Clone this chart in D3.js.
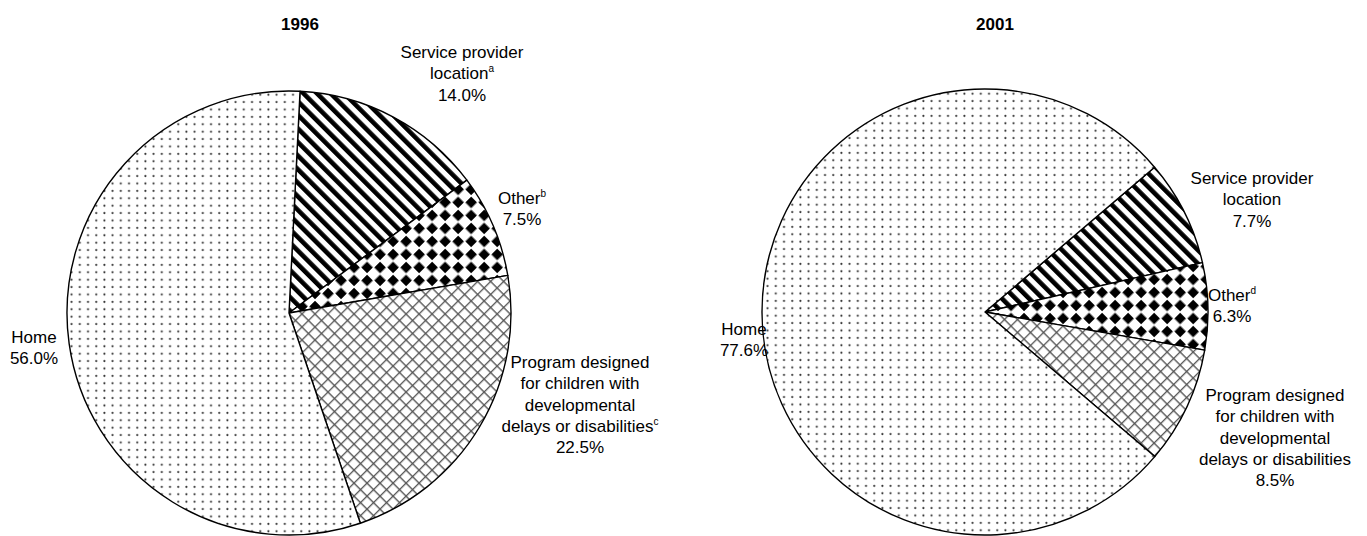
<!DOCTYPE html>
<html>
<head>
<meta charset="utf-8">
<script src="https://cdn.jsdelivr.net/npm/d3@7"></script>
<style>
  body { margin: 0; background: #fff; }
  text { font-family: "Liberation Sans", Arial, sans-serif; fill: #000; }
</style>
</head>
<body>
<div id="chart"></div>
<script>
// Data
const YEARS = ['1996', '2001'];
const CATEGORIES = ['service', 'other', 'program', 'home'];
const VALUES_1996 = [14.0, 7.5, 22.5, 56.0];
const VALUES_2001 = [7.7, 6.3, 8.5, 77.6];
// label text lines (percent line is added from the values)
const LINES_SERVICE = ['Service provider', 'location'];
const LINES_OTHER = ['Other'];
const LINES_PROGRAM = ['Program designed', 'for children with', 'developmental', 'delays or disabilities'];
const LINES_HOME = ['Home'];
const NOTES_1996 = ['a', 'b', 'c', ''];
const NOTES_2001 = ['', 'd', '', ''];

const width = 1367, height = 536;
const svg = d3.select('#chart').append('svg')
    .attr('width', width)
    .attr('height', height);

// Patterns
let defs = svg.append('defs');

let dots = defs.append('pattern')
    .attr('id', 'p-home')
    .attr('patternUnits', 'userSpaceOnUse')
    .attr('width', 8.2).attr('height', 7.4);
dots.append('rect').attr('width', 8.2).attr('height', 7.4).attr('fill', '#fff');
dots.append('circle').attr('cx', 4).attr('cy', 3.7).attr('r', 1.05).attr('fill', '#3a3a3a');

let stripes = defs.append('pattern')
    .attr('id', 'p-service')
    .attr('patternUnits', 'userSpaceOnUse')
    .attr('width', 9.6).attr('height', 9.6)
    .attr('patternTransform', 'rotate(-45)');
stripes.append('rect').attr('width', 9.6).attr('height', 9.6).attr('fill', '#fff');
stripes.append('rect').attr('width', 4.6).attr('height', 9.6).attr('fill', '#000');

let s = 18.4;
let diamonds = defs.append('pattern')
    .attr('id', 'p-other')
    .attr('patternUnits', 'userSpaceOnUse')
    .attr('width', s).attr('height', s)
    .attr('patternTransform', 'rotate(45)');
diamonds.append('rect').attr('width', s).attr('height', s).attr('fill', '#fff');
diamonds.append('rect').attr('x', 0.5).attr('y', 0.5).attr('width', s / 2 - 1).attr('height', s / 2 - 1).attr('fill', '#000');
diamonds.append('rect').attr('x', s / 2 + 0.5).attr('y', s / 2 + 0.5).attr('width', s / 2 - 1).attr('height', s / 2 - 1).attr('fill', '#000');

let hatch = defs.append('pattern')
    .attr('id', 'p-program')
    .attr('patternUnits', 'userSpaceOnUse')
    .attr('width', 9.2).attr('height', 9.2)
    .attr('patternTransform', 'rotate(45)');
hatch.append('rect').attr('width', 9.2).attr('height', 9.2).attr('fill', '#fff');
hatch.append('path').attr('d', 'M0.6,0V9.2M0,0.6H9.2')
    .attr('stroke', '#555').attr('stroke-width', 1.4).attr('fill', 'none');

// Layout of the two pies (centre, radius, rotation, label anchors)
const pies = [
    {
        year: YEARS[0], values: VALUES_1996, notes: NOTES_1996,
        cx: 289, cy: 313, r: 222, start: 2.85,
        titleX: 300,
        labels: [[462, 52], [522, 198], [580, 362], [34, 337]]
    },
    {
        year: YEARS[1], values: VALUES_2001, notes: NOTES_2001,
        cx: 985, cy: 312, r: 223, start: 49.5,
        titleX: 995,
        labels: [[1252, 178], [1232, 295], [1275, 395], [744, 329]]
    }
];
const LINES = [LINES_SERVICE, LINES_OTHER, LINES_PROGRAM, LINES_HOME];
const lineH = 21.3;

pies.forEach(function (p) {
    let a0 = p.start * Math.PI / 180;
    let pie = d3.pie().sort(null).value(function (d) { return d; })
        .startAngle(a0).endAngle(a0 + 2 * Math.PI);
    let arc = d3.arc().innerRadius(0).outerRadius(p.r);

    let g = svg.append('g').attr('transform', 'translate(' + p.cx + ',' + p.cy + ')');
    g.selectAll('path')
        .data(pie(p.values))
        .enter().append('path')
        .attr('d', arc)
        .attr('fill', function (d, i) { return 'url(#p-' + CATEGORIES[i] + ')'; })
        .attr('stroke', '#000')
        .attr('stroke-width', 1.4)
        .attr('stroke-linejoin', 'round');

    svg.append('text')
        .attr('x', p.titleX).attr('y', 24)
        .attr('dy', '0.35em')
        .attr('text-anchor', 'middle')
        .attr('font-weight', 'bold')
        .attr('font-size', 17)
        .text(p.year);

    p.values.forEach(function (v, i) {
        let lines = LINES[i].slice();
        let t = svg.append('text')
            .attr('text-anchor', 'middle')
            .attr('font-size', 17);
        let all = lines.concat([d3.format('.1f')(v) + '%']);
        all.forEach(function (line, k) {
            t.append('tspan')
                .attr('x', p.labels[i][0])
                .attr('y', p.labels[i][1] + k * lineH)
                .attr('dy', '0.35em')
                .text(line);
            // footnote marker on the last text line
            if (k === lines.length - 1 && p.notes[i]) {
                t.append('tspan')
                    .attr('dy', '-0.7em')
                    .attr('font-size', 10)
                    .text(p.notes[i]);
            }
        });
    });
});
</script>
</body>
</html>
